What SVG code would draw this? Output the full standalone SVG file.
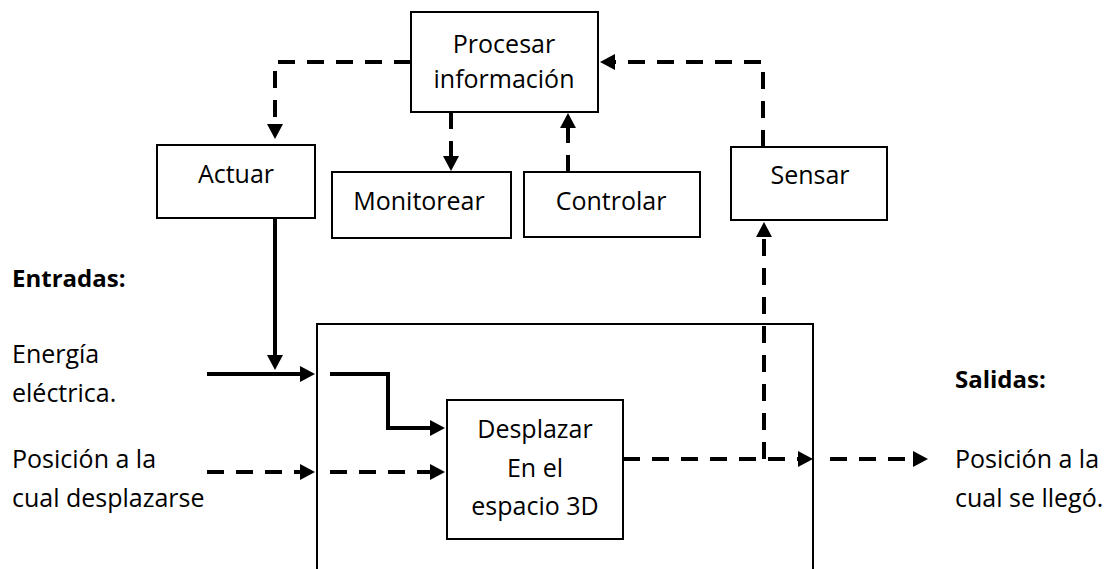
<svg xmlns="http://www.w3.org/2000/svg" width="1112" height="569" viewBox="0 0 1112 569">
<style>
.box{fill:#fff;stroke:#000;stroke-width:2}
.t{font-family:"Open Sans","Liberation Sans",sans-serif;font-size:25px;fill:#000}
.c{text-anchor:middle}
.b{font-weight:bold;font-size:24px}
.ln{fill:none;stroke:#000;stroke-width:4}
.d{stroke-dasharray:17 12}
</style>
<defs>
<marker id="ah" markerUnits="userSpaceOnUse" markerWidth="16" markerHeight="16" refX="0" refY="8" orient="auto" overflow="visible">
<path d="M0,0 L15,8 L0,16 z" fill="#000"/>
</marker>
</defs>
<rect width="1112" height="569" fill="#fff"/>
<g id="sistema"><path d="M317,570 V324 H813 V570" fill="none" stroke="#000" stroke-width="2"/></g>
<g id="procesar"><rect class="box" x="411" y="12" width="187" height="100"/><text class="t c" x="504" y="53">Procesar</text><text class="t c" x="504" y="88">información</text></g>
<g id="actuar"><rect class="box" x="157" y="145" width="158" height="73"/><text class="t c" x="236" y="183">Actuar</text></g>
<g id="monitorear"><rect class="box" x="332" y="172" width="179" height="66"/><text class="t c" x="419" y="210">Monitorear</text></g>
<g id="controlar"><rect class="box" x="524" y="172" width="176" height="65"/><text class="t c" x="611" y="210">Controlar</text></g>
<g id="sensar"><rect class="box" x="731" y="147" width="156" height="73"/><text class="t c" x="810" y="184">Sensar</text></g>
<g id="desplazar"><rect class="box" x="447" y="400" width="176" height="139"/><text class="t c" x="535" y="438">Desplazar</text><text class="t c" x="535" y="477">En el</text><text class="t c" x="535" y="515">espacio 3D</text></g>
<g id="labels">
<text class="t b" x="12" y="287">Entradas:</text>
<text class="t" x="12" y="363">Energía</text>
<text class="t" x="12" y="402">eléctrica.</text>
<text class="t" x="12" y="468">Posición a la</text>
<text class="t" x="12" y="507">cual desplazarse</text>
<text class="t b" x="955" y="388">Salidas:</text>
<text class="t" x="955" y="468">Posición a la</text>
<text class="t" x="955" y="507">cual se llegó.</text>
</g>
<g id="connectors">
<path class="ln d" d="M411,62 H275 V124" marker-end="url(#ah)"/>
<path class="ln d" d="M451,112 V156" marker-end="url(#ah)"/>
<path class="ln d" d="M568,172 V128" marker-end="url(#ah)"/>
<path class="ln d" d="M763,147 V62 H615" marker-end="url(#ah)"/>
<path class="ln" d="M275,218 V355" marker-end="url(#ah)"/>
<path class="ln" d="M207,374 H300" marker-end="url(#ah)"/>
<path class="ln" d="M330,374 H388 V428 H430" marker-end="url(#ah)"/>
<path class="ln d" d="M207,472 H300" marker-end="url(#ah)"/>
<path class="ln d" d="M330,472 H430" marker-end="url(#ah)"/>
<path class="ln d" d="M623,459 H798" marker-end="url(#ah)"/>
<path class="ln d" d="M764,459 V237" marker-end="url(#ah)"/>
<path class="ln d" d="M830,459 H913" marker-end="url(#ah)"/>
</g>
</svg>
